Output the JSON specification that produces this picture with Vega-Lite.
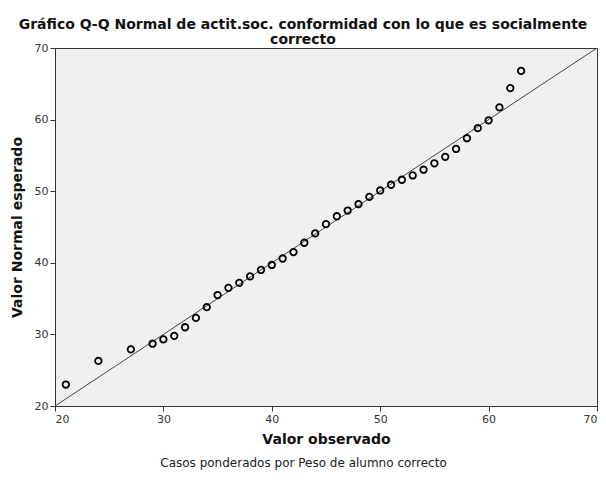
{
  "$schema": "https://vega.github.io/schema/vega-lite/v6.json",
  "autosize": "none",
  "width": 542,
  "height": 358,
  "padding": {"left": 55, "top": 48, "right": 9, "bottom": 76},
  "background": "white",
  "title": {
    "text": ["Gráfico Q-Q Normal de actit.soc. conformidad con lo que es socialmente", "correcto"],
    "font": "DejaVu Sans",
    "fontSize": 14,
    "fontWeight": "bold",
    "color": "#111",
    "anchor": "middle",
    "dx": -23,
    "offset": -5,
    "lineHeight": 15.5
  },
  "config": {
    "view": {"fill": "#f0f0f0", "stroke": "#333", "strokeWidth": 1},
    "axis": {
      "grid": false,
      "domainColor": "#333",
      "tickColor": "#333",
      "tickSize": 5,
      "labelFont": "DejaVu Sans",
      "labelFontSize": 11,
      "labelColor": "#333",
      "titleFont": "DejaVu Sans",
      "titleFontSize": 14,
      "titleFontWeight": "bold",
      "titleColor": "#111"
    }
  },
  "datasets": {
    "puntos": [
      {"observado": 21, "esperado": 23.0},
      {"observado": 24, "esperado": 26.3},
      {"observado": 27, "esperado": 27.9},
      {"observado": 29, "esperado": 28.7},
      {"observado": 30, "esperado": 29.3},
      {"observado": 31, "esperado": 29.8},
      {"observado": 32, "esperado": 31.0},
      {"observado": 33, "esperado": 32.3},
      {"observado": 34, "esperado": 33.8},
      {"observado": 35, "esperado": 35.5},
      {"observado": 36, "esperado": 36.5},
      {"observado": 37, "esperado": 37.2},
      {"observado": 38, "esperado": 38.1},
      {"observado": 39, "esperado": 39.0},
      {"observado": 40, "esperado": 39.7},
      {"observado": 41, "esperado": 40.6},
      {"observado": 42, "esperado": 41.5},
      {"observado": 43, "esperado": 42.8},
      {"observado": 44, "esperado": 44.1},
      {"observado": 45, "esperado": 45.4},
      {"observado": 46, "esperado": 46.5},
      {"observado": 47, "esperado": 47.3},
      {"observado": 48, "esperado": 48.2},
      {"observado": 49, "esperado": 49.2},
      {"observado": 50, "esperado": 50.1},
      {"observado": 51, "esperado": 50.9},
      {"observado": 52, "esperado": 51.6},
      {"observado": 53, "esperado": 52.2},
      {"observado": 54, "esperado": 53.0},
      {"observado": 55, "esperado": 53.9},
      {"observado": 56, "esperado": 54.8},
      {"observado": 57, "esperado": 55.9},
      {"observado": 58, "esperado": 57.4},
      {"observado": 59, "esperado": 58.8},
      {"observado": 60, "esperado": 59.9},
      {"observado": 61, "esperado": 61.7},
      {"observado": 62, "esperado": 64.4},
      {"observado": 63, "esperado": 66.8}
    ],
    "diagonal": [
      {"observado": 20, "esperado": 20},
      {"observado": 70, "esperado": 70}
    ]
  },
  "layer": [
    {
      "data": {"name": "diagonal"},
      "mark": {"type": "line", "color": "#444", "strokeWidth": 1},
      "encoding": {
        "x": {
          "field": "observado", "type": "quantitative",
          "scale": {"domain": [20, 70], "nice": false, "zero": false},
          "axis": {"values": [20, 30, 40, 50, 60, 70], "title": "Valor observado", "titlePadding": 8}
        },
        "y": {
          "field": "esperado", "type": "quantitative",
          "scale": {"domain": [20, 70], "nice": false, "zero": false},
          "axis": {"values": [20, 30, 40, 50, 60, 70], "title": "Valor Normal esperado", "titlePadding": 10}
        }
      }
    },
    {
      "data": {"name": "puntos"},
      "mark": {"type": "point", "shape": "circle", "filled": false, "stroke": "#000", "strokeWidth": 1.8, "size": 42, "opacity": 1},
      "encoding": {
        "x": {
          "field": "observado", "type": "quantitative",
          "scale": {"domain": [20, 70], "nice": false, "zero": false},
          "axis": {"orient": "bottom", "labels": false, "ticks": false, "domain": false, "title": "Casos ponderados por Peso de alumno correcto", "titleFontWeight": "normal", "titleFontSize": 12, "titleColor": "#222", "titlePadding": 51, "titleX": 248}
        },
        "y": {"field": "esperado", "type": "quantitative", "scale": {"domain": [20, 70], "nice": false, "zero": false}}
      }
    }
  ],
  "resolve": {"axis": {"x": "independent"}}
}
